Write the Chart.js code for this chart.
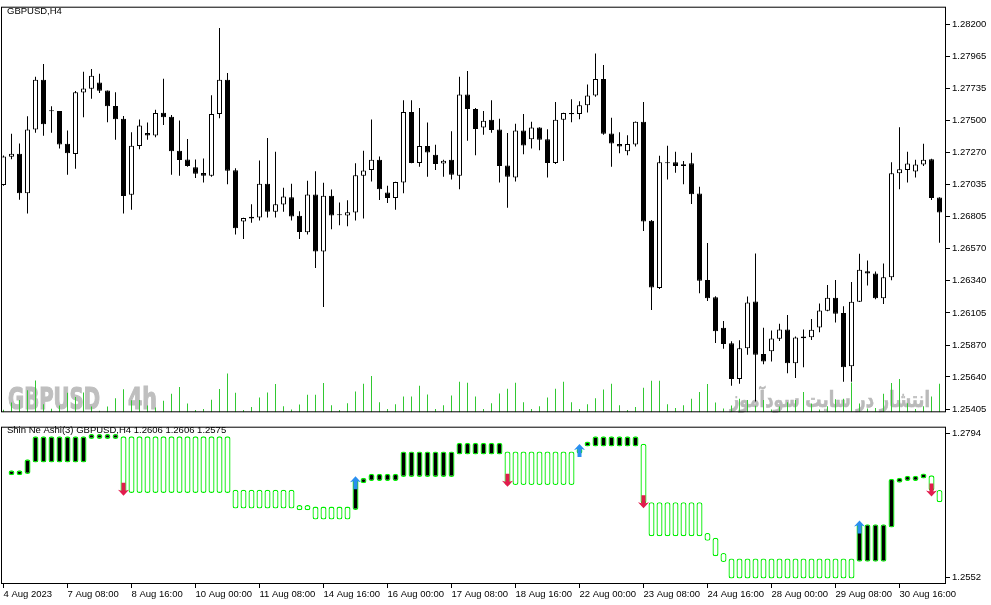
<!DOCTYPE html>
<html><head><meta charset="utf-8">
<script src="https://cdn.jsdelivr.net/npm/chart.js@4.4.1/dist/chart.umd.min.js"></script>
<style>
html,body{margin:0;padding:0;background:#fff;width:991px;height:605px;overflow:hidden}
canvas{position:absolute;left:0}
#main{top:0}
#ind{top:420px}
</style></head><body>
<canvas id="main" width="991" height="420"></canvas>
<canvas id="ind" width="991" height="185"></canvas>
<script>
const chartTitle = 'GBPUSD,H4';
const indicatorTitle = 'Shin Ne Ashi(3) GBPUSD,H4 1.2606 1.2606 1.2575';
const watermarkSymbol = 'GBPUSD';
const watermarkTf = '4h';
const watermarkSite = 'انتشار در سایت سودآموز';

const dateTickIdx = [0,8,16,24,32,40,48,56,64,72,80,88,96,104,112];
const dateLabels = ['4 Aug 2023','7 Aug 08:00','8 Aug 16:00','10 Aug 00:00','11 Aug 08:00','14 Aug 16:00','16 Aug 00:00','17 Aug 08:00','18 Aug 16:00','22 Aug 00:00','23 Aug 08:00','24 Aug 16:00','28 Aug 00:00','29 Aug 08:00','30 Aug 16:00'];
const priceTicks = [1.28200,1.27965,1.27735,1.27500,1.27270,1.27035,1.26805,1.26570,1.26340,1.26105,1.25870,1.25640,1.25405];
const indTicks = [1.2794,1.2552];

const opens = [1.27033,1.27238,1.27261,1.26974,1.27436,1.27798,1.27570,1.27570,1.27332,1.27259,
1.27704,1.27732,1.27777,1.27720,1.27607,1.27515,1.26963,1.27316,1.27410,1.27393,
1.27558,1.27529,1.27282,1.27219,1.27162,1.27120,1.27101,1.27549,1.27798,1.27141,
1.26769,1.26803,1.26798,1.27042,1.26840,1.26892,1.26944,1.26810,1.26690,1.26965,
1.26551,1.26956,1.26815,1.26812,1.26833,1.27101,1.27143,1.27217,1.26979,1.26939,
1.27052,1.27563,1.27193,1.27316,1.27252,1.27189,1.27217,1.27101,1.27690,1.27584,
1.27450,1.27506,1.27436,1.27174,1.27087,1.27429,1.27365,1.27450,1.27365,1.27193,
1.27506,1.27556,1.27549,1.27612,1.27683,1.27803,1.27407,1.27330,1.27278,1.27327,
1.27492,1.26774,1.26285,1.27193,1.27198,1.27184,1.27191,1.26972,1.26344,1.26219,
1.25998,1.25885,1.25626,1.25848,1.26188,1.25807,1.25826,1.25918,1.25984,1.25739,
1.25934,1.25929,1.26000,1.26120,1.26215,1.26104,1.25718,1.26186,1.26407,1.26391,
1.26212,1.26363,1.27118,1.27143,1.27132,1.27182,1.27221,1.26942];
const highs = [1.27247,1.27405,1.27334,1.27532,1.27819,1.27911,1.27605,1.27570,1.27429,1.27715,
1.27856,1.27875,1.27840,1.27720,1.27706,1.27534,1.27417,1.27508,1.27487,1.27579,
1.27805,1.27541,1.27501,1.27367,1.27219,1.27226,1.27685,1.28172,1.27847,1.27155,
1.26795,1.26894,1.27212,1.27374,1.27275,1.27014,1.27042,1.26843,1.27064,1.27134,
1.27050,1.27000,1.26906,1.26922,1.27191,1.27282,1.27508,1.27240,1.27028,1.27057,
1.27649,1.27649,1.27593,1.27487,1.27325,1.27217,1.27424,1.27819,1.27861,1.27593,
1.27570,1.27649,1.27515,1.27410,1.27478,1.27549,1.27492,1.27452,1.27438,1.27635,
1.27558,1.27656,1.27642,1.27762,1.27988,1.27904,1.27522,1.27417,1.27395,1.27494,
1.27635,1.26779,1.27245,1.27318,1.27275,1.27207,1.27268,1.27021,1.26612,1.26226,
1.26047,1.25899,1.25906,1.26224,1.26536,1.25998,1.25977,1.26026,1.26090,1.25934,
1.25984,1.26061,1.26174,1.26308,1.26344,1.26153,1.26330,1.26534,1.26485,1.26405,
1.26464,1.27198,1.27452,1.27275,1.27217,1.27332,1.27224,1.26944];
const lows = [1.27028,1.27221,1.26927,1.26826,1.27412,1.27390,1.27412,1.27299,1.27108,1.27151,
1.27525,1.27659,1.27701,1.27489,1.27362,1.26826,1.26854,1.27292,1.27362,1.27379,
1.27468,1.27108,1.27101,1.27165,1.27085,1.27052,1.27094,1.27517,1.27038,1.26675,
1.26642,1.26760,1.26776,1.26798,1.26798,1.26840,1.26776,1.26642,1.26675,1.26431,
1.26148,1.26713,1.26741,1.26734,1.26776,1.26790,1.27059,1.26925,1.26903,1.26854,
1.26974,1.27191,1.27165,1.27094,1.27143,1.27094,1.27073,1.27002,1.27355,1.27249,
1.27398,1.27412,1.27052,1.26868,1.27059,1.27256,1.27299,1.27285,1.27087,1.27186,
1.27207,1.27489,1.27510,1.27560,1.27673,1.27398,1.27165,1.27263,1.27249,1.27313,
1.26699,1.26127,1.26278,1.27073,1.27122,1.27038,1.26896,1.26247,1.26191,1.25887,
1.25845,1.25577,1.25591,1.25802,1.25462,1.25732,1.25753,1.25901,1.25668,1.25633,
1.25711,1.25908,1.25965,1.26118,1.26035,1.25605,1.25605,1.26184,1.26304,1.26205,
1.26169,1.26342,1.27002,1.27052,1.27087,1.27172,1.26925,1.26614];
const closes = [1.27240,1.27261,1.26974,1.27436,1.27798,1.27475,1.27568,1.27327,1.27263,1.27706,
1.27734,1.27826,1.27718,1.27605,1.27510,1.26953,1.27318,1.27466,1.27393,1.27556,
1.27525,1.27278,1.27214,1.27172,1.27115,1.27101,1.27549,1.27798,1.27136,1.26720,
1.26793,1.26790,1.27042,1.26840,1.26894,1.26949,1.26805,1.26692,1.26965,1.26551,
1.26956,1.26812,1.26814,1.26836,1.27104,1.27139,1.27217,1.27002,1.26939,1.27055,
1.27563,1.27193,1.27316,1.27270,1.27186,1.27210,1.27108,1.27690,1.27584,1.27440,
1.27499,1.27433,1.27172,1.27094,1.27429,1.27320,1.27450,1.27362,1.27193,1.27506,
1.27556,1.27546,1.27612,1.27683,1.27803,1.27405,1.27334,1.27313,1.27330,1.27492,
1.26769,1.26289,1.27198,1.27191,1.27172,1.27172,1.26967,1.26339,1.26212,1.25972,
1.25880,1.25626,1.25848,1.26181,1.25802,1.25753,1.25920,1.25984,1.25739,1.25927,
1.25922,1.25982,1.26123,1.26215,1.26099,1.25711,1.26186,1.26419,1.26391,1.26212,
1.26363,1.27118,1.27148,1.27189,1.27182,1.27217,1.26939,1.26833];
const volumes = [8,30,38,68,98,25,11,21,60,47,
61,18,5,18,43,71,37,38,21,15,
36,57,78,27,7,10,39,72,120,60,
7,16,46,61,87,19,9,24,54,54,
90,22,7,28,64,88,112,31,10,25,
49,49,82,55,10,22,52,94,91,49,
10,28,58,73,91,31,10,19,46,73,
94,31,10,25,43,70,88,22,7,16,
76,97,97,25,13,22,42,63,87,30,
12,21,42,38,20,38,9,18,31,38,
63,27,9,19,40,42,92,27,12,13,
57,90,103,28,10,19,49,88];

const haOpen = [null,1.27237,1.27237,1.27260,1.27454,1.27454,1.27454,1.27454,1.27454,1.27454,
1.27454,1.27853,1.27853,1.27853,1.27853,1.27896,1.27896,1.27896,1.27896,1.27896,
1.27896,1.27896,1.27896,1.27896,1.27896,1.27896,1.27896,1.27896,1.27896,1.26994,
1.26994,1.26994,1.26994,1.26994,1.26994,1.26994,1.26994,1.26735,1.26735,1.26709,
1.26709,1.26709,1.26709,1.26709,1.26654,1.27103,1.27140,1.27140,1.27140,1.27140,
1.27211,1.27211,1.27211,1.27211,1.27211,1.27211,1.27211,1.27589,1.27589,1.27589,
1.27589,1.27589,1.27589,1.27642,1.27642,1.27642,1.27642,1.27642,1.27642,1.27642,
1.27642,1.27642,1.27600,1.27723,1.27723,1.27723,1.27723,1.27723,1.27723,1.27723,
1.27772,1.26783,1.26783,1.26783,1.26783,1.26783,1.26783,1.26783,1.26265,1.26184,
1.25925,1.25834,1.25834,1.25834,1.25834,1.25834,1.25834,1.25834,1.25834,1.25834,
1.25834,1.25834,1.25834,1.25834,1.25834,1.25834,1.25834,1.25779,1.25779,1.25779,
1.25779,1.26357,1.27114,1.27140,1.27140,1.27184,1.27237,1.26989];
const haClose = [null,1.27313,1.27313,1.27507,1.27896,1.27896,1.27896,1.27896,1.27896,1.27896,
1.27896,1.27917,1.27917,1.27917,1.27917,1.26941,1.26941,1.26941,1.26941,1.26941,
1.26941,1.26941,1.26941,1.26941,1.26941,1.26941,1.26941,1.26941,1.26941,1.26677,
1.26677,1.26677,1.26677,1.26677,1.26677,1.26677,1.26677,1.26649,1.26649,1.26492,
1.26492,1.26492,1.26492,1.26492,1.27167,1.27195,1.27265,1.27265,1.27265,1.27265,
1.27642,1.27642,1.27642,1.27642,1.27642,1.27642,1.27642,1.27788,1.27788,1.27788,
1.27788,1.27788,1.27788,1.27075,1.27075,1.27075,1.27075,1.27075,1.27075,1.27075,
1.27075,1.27075,1.27691,1.27778,1.27896,1.27896,1.27896,1.27896,1.27896,1.27896,
1.26762,1.26207,1.26207,1.26207,1.26207,1.26207,1.26207,1.26207,1.26131,1.25872,
1.25774,1.25494,1.25494,1.25494,1.25494,1.25494,1.25494,1.25494,1.25494,1.25494,
1.25494,1.25494,1.25494,1.25494,1.25494,1.25494,1.25494,1.26411,1.26411,1.26411,
1.26411,1.27179,1.27195,1.27232,1.27232,1.27269,1.26978,1.26783];

const upArrowIdx = [44,72,107];
const upArrowVal = [1.27221,1.27767,1.26476];
const downArrowIdx = [15,63,80,116];
const downArrowVal = [1.26892,1.27043,1.26681,1.26881];

const FONT = 'Liberation Sans';
const tickFont = {family: FONT, size: 9.5};
const xMin = -0.1875, xMax = 117.8125;
const idx = opens.map((_, i) => i);

function frame(chart){
  const a = chart.chartArea, c = chart.ctx;
  c.save(); c.strokeStyle = '#000'; c.lineWidth = 1;
  c.strokeRect(a.left - 0.5, a.top - 0.5, a.right - a.left, a.bottom - a.top);
  c.restore();
}

const mainDecor = {
  id: 'mainDecor',
  beforeDatasetsDraw(chart){
    const c = chart.ctx;
    c.save();
    c.fillStyle = '#bfbfbf';
    c.strokeStyle = '#bfbfbf';
    c.lineWidth = 1.2;
    c.font = 'bold 30px "DejaVu Sans Condensed", "DejaVu Sans"';
    c.textBaseline = 'alphabetic';
    let w1 = c.measureText(watermarkSymbol).width;
    c.save(); c.translate(8, 409); c.scale(92 / w1, 1); c.fillText(watermarkSymbol, 0, 0); c.strokeText(watermarkSymbol, 0, 0); c.restore();
    let w2 = c.measureText(watermarkTf).width;
    c.save(); c.translate(128, 409); c.scale(29 / w2, 1); c.fillText(watermarkTf, 0, 0); c.strokeText(watermarkTf, 0, 0); c.restore();
    c.fillStyle = '#bababa';
    c.strokeStyle = '#bababa';
    c.lineWidth = 0.6;
    c.font = 'bold 22px "DejaVu Sans"';
    c.direction = 'rtl';
    c.textAlign = 'right';
    const w = c.measureText(watermarkSite).width;
    c.save(); c.translate(930, 407); c.scale(200 / w, 1); c.fillText(watermarkSite, 0, 0); c.strokeText(watermarkSite, 0, 0); c.restore();
    c.restore();
  },
  afterDatasetsDraw(chart){
    const c = chart.ctx;
    c.save();
    c.fillStyle = '#000';
    c.font = '9.5px "Liberation Sans"';
    c.textBaseline = 'middle';
    c.fillText(chartTitle, 7, 11);
    c.restore();
    frame(chart);
  }
};

const indDecor = {
  id: 'indDecor',
  afterDatasetsDraw(chart){
    const c = chart.ctx, xs = chart.scales.x, ys = chart.scales.y;
    c.save();
    c.fillStyle = '#000';
    c.font = '9.5px "Liberation Sans"';
    c.textBaseline = 'middle';
    c.fillText(indicatorTitle, 7, 10);
    c.fillStyle = '#2a8ff0';
    upArrowIdx.forEach((k, j) => {
      const x = xs.getPixelForValue(k), y = ys.getPixelForValue(upArrowVal[j]);
      c.beginPath();
      c.moveTo(x, y); c.lineTo(x + 5.5, y + 6); c.lineTo(x + 2, y + 5);
      c.lineTo(x + 2, y + 13); c.lineTo(x - 2, y + 13); c.lineTo(x - 2, y + 5);
      c.lineTo(x - 5.5, y + 6); c.closePath(); c.fill();
    });
    c.fillStyle = '#e21b4d';
    downArrowIdx.forEach((k, j) => {
      const x = xs.getPixelForValue(k), y = ys.getPixelForValue(downArrowVal[j]);
      c.beginPath();
      c.moveTo(x, y); c.lineTo(x + 5.5, y - 6); c.lineTo(x + 2, y - 5);
      c.lineTo(x + 2, y - 13); c.lineTo(x - 2, y - 13); c.lineTo(x - 2, y - 5);
      c.lineTo(x - 5.5, y - 6); c.closePath(); c.fill();
    });
    c.restore();
    frame(chart);
  }
};

new Chart(document.getElementById('main'), {
  type: 'bar',
  data: {
    datasets: [
      {
        label: 'body',
        data: idx.map(i => ({x: i, y: [opens[i], closes[i]]})),
        backgroundColor: idx.map(i => closes[i] > opens[i] ? '#ffffff' : '#000000'),
        borderColor: '#000', borderWidth: 1, borderSkipped: false,
        barThickness: 5, minBarLength: 1, grouped: false, order: 0, inflateAmount: 0
      },
      {
        label: 'wick',
        data: idx.map(i => ({x: i, y: [lows[i], highs[i]]})),
        backgroundColor: '#000', borderWidth: 0,
        barThickness: 1, grouped: false, order: 1, inflateAmount: 0
      },
      {
        label: 'volume',
        data: idx.map(i => ({x: i, y: volumes[i]})),
        yAxisID: 'vol',
        backgroundColor: '#32c832', borderWidth: 0,
        barThickness: 1, grouped: false, order: 2, inflateAmount: 0
      }
    ]
  },
  options: {
    animation: false, responsive: false, maintainAspectRatio: false,
    layout: {padding: {left: 2, top: 2, bottom: 2, right: 0}},
    plugins: {legend: {display: false}, tooltip: {enabled: false}},
    scales: {
      x: {type: 'linear', offset: false, min: xMin, max: xMax, display: false},
      y: {
        position: 'right', min: 1.253838, max: 1.283200,
        afterBuildTicks: s => { s.ticks = priceTicks.map(v => ({value: v})); },
        afterFit: s => { s.width = 45; },
        ticks: {font: tickFont, color: '#000', padding: 2, autoSkip: false, callback: v => Number(v).toFixed(5)},
        grid: {drawOnChartArea: false, drawTicks: true, tickLength: 4, color: '#000'},
        border: {display: false}
      },
      vol: {axis: 'y', type: 'linear', display: false, min: 0, max: 1248}
    }
  },
  plugins: [mainDecor]
});

new Chart(document.getElementById('ind'), {
  type: 'bar',
  data: {
    datasets: [{
      label: 'ha',
      data: idx.map(i => ({x: i, y: haOpen[i] === null ? null : [haOpen[i], haClose[i]]})),
      backgroundColor: idx.map(i => (haClose[i] > haOpen[i]) ? '#000000' : '#ffffff'),
      borderColor: '#00ee00', borderWidth: 1.3, borderRadius: 2.5, borderSkipped: false,
      barThickness: 6, minBarLength: 5, grouped: false, inflateAmount: 0
    }]
  },
  options: {
    animation: false, responsive: false, maintainAspectRatio: false,
    layout: {padding: {left: 2, top: 1, bottom: 0, right: 0}},
    plugins: {legend: {display: false}, tooltip: {enabled: false}},
    scales: {
      x: {
        type: 'linear', offset: false, min: xMin, max: xMax,
        afterBuildTicks: s => { s.ticks = dateTickIdx.map(v => ({value: v})); },
        afterFit: s => { s.height = 21; },
        ticks: {align: 'start', font: tickFont, color: '#000', padding: 1, maxRotation: 0, autoSkip: false,
                callback: (v, k) => dateLabels[k]},
        grid: {drawOnChartArea: false, drawTicks: true, tickLength: 4, color: '#000', offset: false},
        border: {display: false}
      },
      y: {
        position: 'right', min: 1.25402, max: 1.28042,
        afterBuildTicks: s => { s.ticks = indTicks.map(v => ({value: v})); },
        afterFit: s => { s.width = 45; },
        ticks: {font: tickFont, color: '#000', padding: 2, autoSkip: false, callback: v => Number(v).toFixed(4)},
        grid: {drawOnChartArea: false, drawTicks: true, tickLength: 4, color: '#000'},
        border: {display: false}
      }
    }
  },
  plugins: [indDecor]
});
</script>
</body></html>
